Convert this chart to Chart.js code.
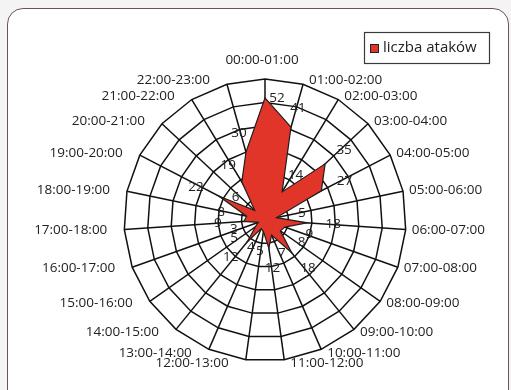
<!DOCTYPE html>
<html>
<head>
<meta charset="utf-8">
<script src="https://cdn.jsdelivr.net/npm/chart.js@4.4.1/dist/chart.umd.min.js"></script>
<style>
  html, body { margin: 0; padding: 0; background: #f4f4f4; }
  #wrap { position: relative; width: 511px; height: 390px; overflow: hidden; }
  #frame {
    position: absolute; left: 7px; top: 8px; width: 500px; height: 400px;
    background: #fff; border: 1.3px solid #6e5450; border-radius: 16px;
  }
  #c { position: absolute; left: 0; top: 0; }
</style>
</head>
<body>
<div id="wrap">
  <div id="frame"></div>
  <canvas id="c" width="511" height="390"></canvas>
</div>
<script>
// Hourly time slots (spokes of the radar)
const hours = [
  '00:00-01:00', '01:00-02:00', '02:00-03:00', '03:00-04:00', '04:00-05:00',
  '05:00-06:00', '06:00-07:00', '07:00-08:00', '08:00-09:00', '09:00-10:00',
  '10:00-11:00', '11:00-12:00', '12:00-13:00', '13:00-14:00', '14:00-15:00',
  '15:00-16:00', '16:00-17:00', '17:00-18:00', '18:00-19:00', '19:00-20:00',
  '20:00-21:00', '21:00-22:00', '22:00-23:00'
];

// Number of attacks in each slot
const attacks = [52, 41, 14, 35, 27, 5, 18, 9, 8, 18, 7, 12, 5, 4, 12, 5, 3, 9, 8, 22, 6, 19, 30];

const seriesName = 'liczba ataków';

// Radial axis range and ring spacing
const axisMin = 0;
const axisMax = 60;
const axisStep = 10;

const FONT = '"Open Sans", "Noto Sans", sans-serif';
const TEXT = '#222';
const LINE = '#111';
const RED = '#e2352a';

// Category labels around the outer ring: beside the spoke end on the
// left and right sides, above it at the top
const spokeLabels = {
  id: 'spokeLabels',
  afterDraw(chart) {
    const scale = chart.scales.r;
    const R = scale.drawingArea;
    const ctx = chart.ctx;
    ctx.save();
    ctx.font = '13.5px ' + FONT;
    ctx.fillStyle = TEXT;
    chart.data.labels.forEach((lab, i) => {
      const end = scale.getPointPosition(i, R);
      const a = end.angle + Math.PI / 2;       // clockwise from 12 o'clock
      const s = Math.sin(a), c = Math.cos(a);
      ctx.textBaseline = 'middle';
      if (Math.abs(s) < 0.05) {
        ctx.textAlign = 'center';
        ctx.fillText(lab, end.x - 3, end.y - 19);
      } else {
        ctx.textAlign = s > 0 ? 'left' : 'right';
        const gap = s > 0 ? 6 : 17;
        ctx.fillText(lab, end.x + (s > 0 ? gap : -gap), end.y - c * 4);
      }
    });
    ctx.restore();
  }
};

// Value next to every vertex: pushed outward along its spoke and
// slightly sideways; values close to the outer ring go to the right
const valueLabels = {
  id: 'valueLabels',
  afterDatasetsDraw(chart) {
    const scale = chart.scales.r;
    const ds = chart.data.datasets[0];
    const ctx = chart.ctx;
    ctx.save();
    ctx.font = '13.5px ' + FONT;
    ctx.fillStyle = TEXT;
    ctx.textAlign = 'center';
    ctx.textBaseline = 'middle';
    ds.data.forEach((v, i) => {
      const d = scale.getDistanceFromCenterForValue(v);
      const q = scale.getPointPosition(i, d);
      const a = q.angle + Math.PI / 2;
      const s = Math.sin(a), c = Math.cos(a);
      let x, y;
      if (d + 20 > scale.drawingArea - 8) {
        x = q.x + 12; y = q.y;
      } else {
        x = q.x + 20 * s + 6 * s;
        y = q.y - 20 * c;
      }
      ctx.fillText(String(v), x, y);
    });
    ctx.restore();
  }
};

// Boxed legend in the upper right corner
const boxLegend = {
  id: 'boxLegend',
  afterDraw(chart) {
    const ctx = chart.ctx;
    const ds = chart.data.datasets[0];
    const x = 364, y = 32, w = 125, h = 31;
    ctx.save();
    ctx.fillStyle = '#fff';
    ctx.fillRect(x, y, w, h);
    ctx.strokeStyle = '#3a3a3a';
    ctx.lineWidth = 1.2;
    ctx.strokeRect(x + 0.5, y + 0.5, w, h);
    ctx.fillStyle = ds.backgroundColor;
    ctx.fillRect(x + 6.5, y + 12.5, 8, 8);
    ctx.strokeStyle = '#222';
    ctx.lineWidth = 1;
    ctx.strokeRect(x + 6.5, y + 12.5, 8, 8);
    ctx.fillStyle = TEXT;
    ctx.font = '15px ' + FONT;
    ctx.textAlign = 'left';
    ctx.textBaseline = 'middle';
    ctx.fillText(ds.label, x + 19, y + 16);
    ctx.restore();
  }
};

new Chart(document.getElementById('c'), {
  type: 'radar',
  data: {
    labels: hours,
    datasets: [{
      label: seriesName,
      data: attacks,
      backgroundColor: RED,
      borderColor: '#1e1e1e',
      borderWidth: 1.2,
      pointRadius: 0,
      pointHoverRadius: 0,
      fill: true
    }]
  },
  options: {
    responsive: false,
    animation: false,
    // square plot area: centre (265, 220), radius 141
    layout: { padding: { top: 79, bottom: 29, left: 124, right: 105 } },
    plugins: {
      legend: { display: false },
      tooltip: { enabled: false }
    },
    scales: {
      r: {
        min: axisMin,
        max: axisMax,
        ticks: { stepSize: axisStep, display: false },
        grid: { color: LINE, lineWidth: 1.5 },
        angleLines: { color: LINE, lineWidth: 1.5 },
        pointLabels: { display: false }
      }
    }
  },
  plugins: [valueLabels, spokeLabels, boxLegend]
});
</script>
</body>
</html>
